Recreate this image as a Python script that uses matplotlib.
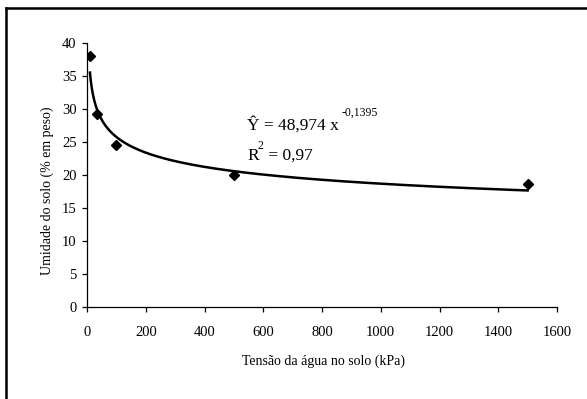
import numpy as np
import matplotlib
matplotlib.use('Agg')
from matplotlib import pyplot

# measured points: water tension (kPa) vs soil moisture (% by weight)
tensao = [10, 33, 100, 500, 1500]
umidade = [38.0, 29.2, 24.6, 20.0, 18.6]

# power trend line shown on the chart: y = a * x^b
coef_a = 48.974
coef_b = -0.1395
x_ticks = [0, 200, 400, 600, 800, 1000, 1200, 1400, 1600]
y_ticks = [0, 5, 10, 15, 20, 25, 30, 35, 40]

pyplot.rcParams['font.family'] = ['Liberation Serif', 'DejaVu Serif']
pyplot.rcParams['font.size'] = 10

W, H = 587, 399
fig = pyplot.figure(figsize=(W / 100., H / 100.), dpi=100)
ax = fig.add_axes([87 / W, 1 - 307 / H, 470 / W, 264 / H])

x_fit = np.geomspace(min(tensao), max(tensao), 300)
ax.plot(x_fit, coef_a * x_fit ** coef_b, color='black', lw=1.8)
ax.plot(tensao, umidade, linestyle='none', marker='D', ms=5.5, color='black')

ax.set_xlim(0, 1600)
ax.set_ylim(0, 40)
ax.set_xticks(x_ticks)
ax.set_yticks(y_ticks)
for s in ['top', 'right']:
    ax.spines[s].set_visible(False)
for s in ['left', 'bottom']:
    ax.spines[s].set_linewidth(0.9)
ax.tick_params(axis='both', direction='out', length=3.5, width=0.9, labelsize=10.5)
ax.tick_params(axis='x', pad=10)
ax.tick_params(axis='y', pad=4)

fig.text(323 / W, 1 - 361 / H, 'Tensão da água no solo (kPa)', ha='center', va='center', fontsize=10)
fig.text(47 / W, 1 - 191 / H, 'Umidade do solo (% em peso)', ha='center', va='center',
         rotation=90, fontsize=10)

# equation text
fig.text(247 / W, 1 - 130 / H, 'Ŷ = 48,974 x', ha='left', va='baseline', fontsize=12.5)
fig.text(342 / W, 1 - 116 / H, '-0,1395', ha='left', va='baseline', fontsize=8.5)
fig.text(247 / W, 1 - 160 / H, 'R', ha='left', va='baseline', fontsize=12.5)
fig.text(258 / W, 1 - 167 / H + 0.045, '2', ha='left', va='baseline', fontsize=8.5)
fig.text(264 / W, 1 - 160 / H, ' = 0,97', ha='left', va='baseline', fontsize=12.5)

# outer frame (only top and left edges fall inside the picture)
fig.add_artist(pyplot.Line2D([5.5 / W, 1], [1 - 7.5 / H, 1 - 7.5 / H], color='black', lw=1.8))
fig.add_artist(pyplot.Line2D([5.5 / W, 5.5 / W], [0, 1 - 7.5 / H], color='black', lw=1.8))

fig.savefig('out.png', dpi=100)
